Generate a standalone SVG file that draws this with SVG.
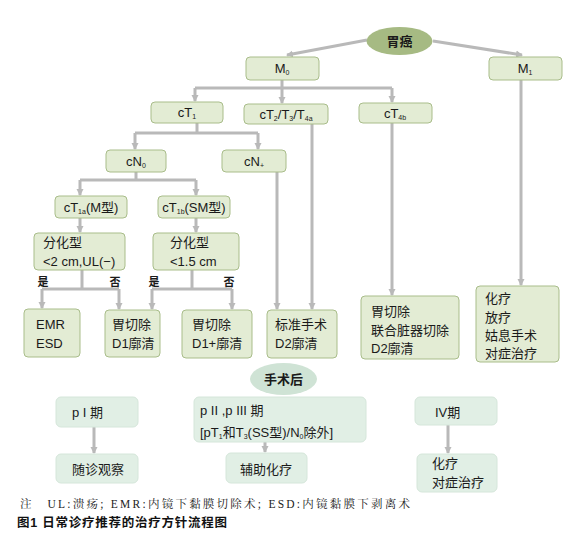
<svg xmlns="http://www.w3.org/2000/svg" width="581" height="545" viewBox="0 0 581 545">
<style>
text{font-family:"Liberation Sans","Noto Sans CJK SC",sans-serif;font-size:13px;fill:#1a1a1a}
.b{fill:#e3ecd4;stroke:#a9bd8a;stroke-width:1}
.g{fill:#e1efe5;stroke:#d5e6da;stroke-width:1}
.c{fill:none;stroke:#b9b9b9;stroke-width:3}
.m{text-anchor:middle}
.s{font-size:7px}
.yn{font-size:11px;font-weight:bold}
.note{font-family:"Liberation Serif","Noto Serif CJK SC","Noto Sans CJK SC",serif;font-size:11.5px;fill:#222}
.cap{font-size:12.5px;font-weight:bold;fill:#111}
</style>
<defs>
<marker id="a" markerUnits="userSpaceOnUse" markerWidth="8" markerHeight="8" refX="6" refY="4" orient="auto">
<path d="M0,0.5 L7,4 L0,7.5 Z" fill="#b9b9b9"/>
</marker>
</defs>
<rect width="581" height="545" fill="#ffffff"/>
<g id="connectors">
<path class="c" d="M367,40 L287,55" marker-end="url(#a)"/>
<path class="c" d="M433,41 L522,55" marker-end="url(#a)"/>
<path class="c" d="M282,80 V88 M195,88 H392"/>
<path class="c" d="M195,88 V101" marker-end="url(#a)"/>
<path class="c" d="M282,88 V103" marker-end="url(#a)"/>
<path class="c" d="M392,88 V102" marker-end="url(#a)"/>
<path class="c" d="M197,123 V133 M135,133 H258"/>
<path class="c" d="M135,133 V149" marker-end="url(#a)"/>
<path class="c" d="M258,133 V149" marker-end="url(#a)"/>
<path class="c" d="M136,172 V180 M80,180 H196"/>
<path class="c" d="M80,180 V195" marker-end="url(#a)"/>
<path class="c" d="M196,180 V195" marker-end="url(#a)"/>
<path class="c" d="M80,218 V232" marker-end="url(#a)"/>
<path class="c" d="M196,218 V232" marker-end="url(#a)"/>
<path class="c" d="M82,270 V289 M42,289 H119"/>
<path class="c" d="M42,289 V308" marker-end="url(#a)"/>
<path class="c" d="M119,289 V309" marker-end="url(#a)"/>
<path class="c" d="M192,270 V289 M152,289 H232"/>
<path class="c" d="M152,289 V309" marker-end="url(#a)"/>
<path class="c" d="M232,289 V309" marker-end="url(#a)"/>
<path class="c" d="M277,172 V309" marker-end="url(#a)"/>
<path class="c" d="M312,124 V309" marker-end="url(#a)"/>
<path class="c" d="M392,123 V295" marker-end="url(#a)"/>
<path class="c" d="M521,80 V285" marker-end="url(#a)"/>
<path class="c" d="M94,427 V453" marker-end="url(#a)"/>
<path class="c" d="M265,442 V452" marker-end="url(#a)"/>
<path class="c" d="M448,425 V453" marker-end="url(#a)"/>
</g>
<g id="weiai"><ellipse cx="399.5" cy="41" rx="33" ry="14" fill="#a6ba83"/><text x="399.5" y="46" class="m" style="font-weight:bold">胃癌</text></g>
<g id="m0"><rect class="b" x="246" y="57" width="73" height="23" rx="4"/><text x="282" y="73" class="m">M<tspan class="s" dy="2">0</tspan></text></g>
<g id="m1"><rect class="b" x="489" y="57" width="73" height="23" rx="4"/><text x="525" y="73" class="m">M<tspan class="s" dy="2">1</tspan></text></g>
<g id="ct1"><rect class="b" x="151" y="102" width="72" height="21" rx="4"/><text x="187" y="117" class="m">cT<tspan class="s" dy="2">1</tspan></text></g>
<g id="ct2"><rect class="b" x="244" y="104" width="84" height="20" rx="4"/><text x="286" y="119" class="m">cT<tspan class="s" dy="2">2</tspan><tspan dy="-2">/T</tspan><tspan class="s" dy="2">3</tspan><tspan dy="-2">/T</tspan><tspan class="s" dy="2">4a</tspan></text></g>
<g id="ct4b"><rect class="b" x="359" y="103" width="73" height="20" rx="4"/><text x="395" y="118" class="m">cT<tspan class="s" dy="2">4b</tspan></text></g>
<g id="cn0"><rect class="b" x="106" y="150" width="60" height="22" rx="4"/><text x="136" y="166" class="m">cN<tspan class="s" dy="2">0</tspan></text></g>
<g id="cnp"><rect class="b" x="222" y="150" width="64" height="22" rx="4"/><text x="254" y="166" class="m">cN<tspan class="s" dy="2">+</tspan></text></g>
<g id="ct1a"><rect class="b" x="55" y="196" width="72" height="22" rx="4"/><text x="91" y="212" class="m">cT<tspan class="s" dy="2">1a</tspan><tspan dy="-2">(M型)</tspan></text></g>
<g id="ct1b"><rect class="b" x="158" y="196" width="72" height="22" rx="4"/><text x="194" y="212" class="m">cT<tspan class="s" dy="2">1b</tspan><tspan dy="-2">(SM型)</tspan></text></g>
<g id="fh1"><rect class="b" x="34" y="233" width="91" height="37" rx="4"/><text x="43" y="247">分化型</text><text x="43" y="266">&lt;2 cm,UL(−)</text></g>
<g id="fh2"><rect class="b" x="153" y="233" width="86" height="37" rx="4"/><text x="170" y="247">分化型</text><text x="170" y="266">&lt;1.5 cm</text></g>
<g id="yn"><text x="43" y="286" class="m yn">是</text><text x="115" y="286" class="m yn">否</text><text x="154" y="286" class="m yn">是</text><text x="229" y="286" class="m yn">否</text></g>
<g id="emr"><rect class="b" x="24" y="309" width="56" height="48" rx="4"/><text x="36" y="329">EMR</text><text x="36" y="348">ESD</text></g>
<g id="d1"><rect class="b" x="105" y="310" width="55" height="47" rx="4"/><text x="112" y="329">胃切除</text><text x="112" y="348">D1廓清</text></g>
<g id="d1p"><rect class="b" x="182" y="310" width="70" height="48" rx="4"/><text x="192" y="329">胃切除</text><text x="192" y="348">D1+廓清</text></g>
<g id="d2"><rect class="b" x="267" y="310" width="70" height="48" rx="4"/><text x="275" y="329">标准手术</text><text x="275" y="348">D2廓清</text></g>
<g id="lh"><rect class="b" x="361" y="296" width="98" height="63" rx="4"/><text x="371" y="316">胃切除</text><text x="371" y="335">联合脏器切除</text><text x="371" y="353">D2廓清</text></g>
<g id="hl"><rect class="b" x="476" y="286" width="83" height="76" rx="4"/><text x="485" y="303">化疗</text><text x="485" y="322">放疗</text><text x="485" y="340">姑息手术</text><text x="485" y="358">对症治疗</text></g>
<g id="shh"><ellipse cx="283.5" cy="379" rx="33.5" ry="16" fill="#cfe3d5"/><text x="283.5" y="384" class="m" style="font-weight:bold">手术后</text></g>
<g id="p1"><rect class="g" x="56" y="397" width="82" height="30" rx="5"/><text x="72" y="417">p I 期</text></g>
<g id="p23"><rect class="g" x="194" y="397" width="172" height="45" rx="5"/><text x="200" y="415">p II ,p III 期</text><text x="200" y="437">[pT<tspan class="s" dy="2">1</tspan><tspan dy="-2">和T</tspan><tspan class="s" dy="2">3</tspan><tspan dy="-2">(SS型)/N</tspan><tspan class="s" dy="2">0</tspan><tspan dy="-2">除外]</tspan></text></g>
<g id="p4"><rect class="g" x="415" y="397" width="82" height="28" rx="5"/><text x="435" y="417">IV期</text></g>
<g id="sz"><rect class="g" x="56" y="454" width="82" height="29" rx="5"/><text x="72" y="474">随诊观察</text></g>
<g id="fz"><rect class="g" x="226" y="453" width="81" height="30" rx="5"/><text x="240" y="474">辅助化疗</text></g>
<g id="hldz"><rect class="g" x="417" y="454" width="80" height="38" rx="5"/><text x="432" y="468">化疗</text><text x="432" y="487">对症治疗</text></g>
<text x="20" y="508" class="note" textLength="390" lengthAdjust="spacing">注　UL:溃疡; EMR:内镜下黏膜切除术; ESD:内镜黏膜下剥离术</text>
<text x="17" y="527" class="cap" textLength="210" lengthAdjust="spacing">图1 日常诊疗推荐的治疗方针流程图</text>
</svg>
